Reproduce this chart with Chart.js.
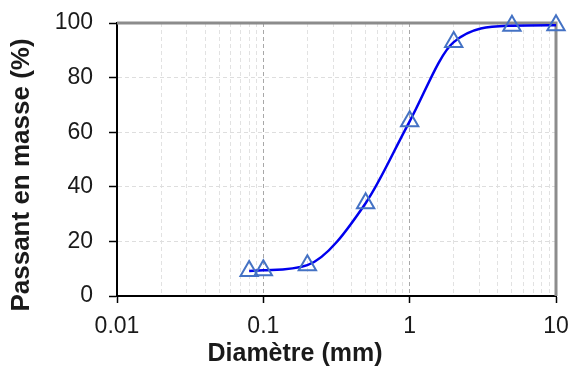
<!DOCTYPE html>
<html>
<head>
<meta charset="utf-8">
<script src="https://cdn.jsdelivr.net/npm/chart.js@4/dist/chart.umd.min.js"></script>
<style>
  html, body { margin: 0; padding: 0; background: #fff; }
  #wrap { width: 572px; height: 372px; }
</style>
</head>
<body>
<div id="wrap"><canvas id="courbe" width="572" height="372"></canvas></div>
<script>
// granulometrie
const diametres = [0.08, 0.1, 0.2, 0.5, 1, 2, 5, 10];
const passants = [9.2, 9.4, 11.3, 34, 64, 93, 99, 99.2];
const decades = [0.01, 0.1, 1, 10];
const yTicks = [0, 20, 40, 60, 80, 100];

const FONT = '"Liberation Sans", Arial, sans-serif';
const TXT = '#1a1a1a';

// traits gris en haut et a droite + titres des axes
const cadre = {
    id: 'cadre',
    beforeDatasetsDraw(chart) {
        const a = chart.chartArea, ctx = chart.ctx;
        ctx.save();
        ctx.strokeStyle = '#8c8c8c';
        ctx.lineWidth = 3;
        ctx.beginPath();
        ctx.moveTo(a.left, a.top);
        ctx.lineTo(a.right, a.top);
        ctx.lineTo(a.right, a.bottom);
        ctx.stroke();
        ctx.restore();
    },
    afterDraw(chart) {
        const ctx = chart.ctx;
        ctx.save();
        ctx.fillStyle = TXT;
        ctx.textAlign = 'center';
        ctx.textBaseline = 'middle';
        ctx.font = 'bold 25px ' + FONT;
        ctx.fillText('Diamètre (mm)', 295, 354);
        ctx.font = 'bold 26px ' + FONT;
        ctx.translate(22, 175);
        ctx.rotate(-Math.PI / 2);
        ctx.fillText('Passant en masse (%)', 0, 0);
        ctx.restore();
    }
};

const ctx = document.getElementById('courbe').getContext('2d');
new Chart(ctx, {
    type: 'line',
    data: {
        datasets: [{
            data: diametres.map((d, i) => ({x: d, y: passants[i]})),
            borderColor: '#0000ee',
            borderWidth: 2.5,
            cubicInterpolationMode: 'monotone',
            pointStyle: 'triangle',
            pointRadius: 10,
            pointBorderColor: '#4472c4',
            pointBackgroundColor: 'rgba(0,0,0,0)',
            pointBorderWidth: 2,
            clip: false
        }]
    },
    options: {
        responsive: false,
        animation: false,
        layout: {padding: {top: 23, right: 16, left: 0, bottom: 0}},
        plugins: {legend: {display: false}, tooltip: {enabled: false}},
        scales: {
            x: {
                type: 'logarithmic',
                min: decades[0],
                max: decades[decades.length - 1],
                afterBuildTicks(scale) {
                    let t = [];
                    decades.forEach((d, i) => {
                        if (i === decades.length - 1) { t.push({value: d, major: true}); return; }
                        for (let k = 1; k <= 9; k++) t.push({value: +(k * d).toPrecision(3), major: k === 1});
                    });
                    scale.ticks = t;
                },
                afterFit(scale) {
                    scale.height = 76;
                    scale.paddingLeft = 0;
                    scale.paddingRight = 0;
                },
                ticks: {
                    autoSkip: false, maxRotation: 0, padding: 10,
                    color: TXT, font: {family: FONT, size: 23},
                    callback: (v, i, ticks) => ticks[i].major ? String(v) : ''
                },
                grid: {
                    color: c => c.tick && c.tick.major ? '#a8a8a8' : '#e2e2e2',
                    lineWidth: 1,
                    tickLength: 7,
                    tickWidth: 1.5,
                    tickColor: c => c.tick && c.tick.major ? '#000' : 'rgba(0,0,0,0)'
                },
                border: {display: true, color: '#000', width: 2, dash: [4, 3]}
            },
            y: {
                min: yTicks[0],
                max: yTicks[yTicks.length - 1],
                afterBuildTicks(scale) { scale.ticks = yTicks.map(v => ({value: v})); },
                afterFit(scale) {
                    scale.width = 117;
                    scale.paddingTop = 0;
                    scale.paddingBottom = 0;
                },
                ticks: {padding: 16, color: TXT, font: {family: FONT, size: 23}},
                grid: {color: '#dedede', lineWidth: 1, tickLength: 8, tickWidth: 1.5, tickColor: '#000'},
                border: {display: true, color: '#000', width: 2, dash: [4, 3]}
            }
        }
    },
    plugins: [cadre]
});
</script>
</body>
</html>
